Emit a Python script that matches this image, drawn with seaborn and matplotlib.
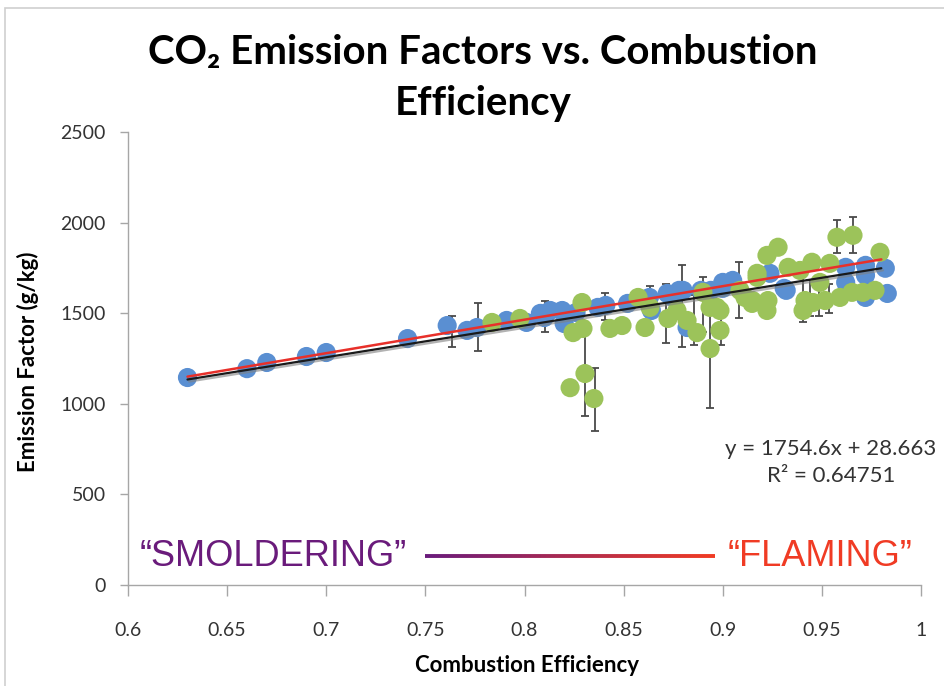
import numpy as np
import pandas as pd
import matplotlib
matplotlib.use("Agg")
import matplotlib.pyplot as plt
import seaborn as sns
from matplotlib.collections import LineCollection
from matplotlib.patches import Rectangle
import matplotlib.patheffects as pe

# ---------------- data ----------------
blue_ce = [0.630, 0.660, 0.670, 0.690, 0.700, 0.741, 0.761, 0.771, 0.776, 0.791,
           0.801, 0.808, 0.810, 0.813, 0.819, 0.820, 0.826, 0.837, 0.841, 0.852,
           0.863, 0.864, 0.872, 0.875, 0.878, 0.880, 0.882, 0.889, 0.894, 0.900,
           0.900, 0.905, 0.9238, 0.931, 0.932, 0.962, 0.962, 0.972, 0.972, 0.972,
           0.982, 0.983]
blue_ef = [1145, 1194, 1228, 1261, 1283, 1360, 1432, 1405, 1421, 1460,
           1449, 1499, 1476, 1515, 1515, 1443, 1504, 1532, 1543, 1554,
           1587, 1515, 1609, 1587, 1626, 1626, 1421, 1626, 1626, 1637,
           1670, 1681, 1720, 1637, 1626, 1753, 1670, 1764, 1709, 1587,
           1748, 1609]

green_ce = [0.7836, 0.7977, 0.823, 0.8245, 0.829, 0.8295, 0.8305, 0.835, 0.8431, 0.8492,
            0.8573, 0.8608, 0.8633, 0.8724, 0.8769, 0.882, 0.887, 0.890, 0.8936, 0.8936,
            0.8986, 0.8986, 0.897, 0.9087, 0.9112, 0.9148, 0.915, 0.9173, 0.9173, 0.9213,
            0.9223, 0.9223, 0.9228, 0.9279, 0.933, 0.939, 0.9405, 0.9415, 0.945, 0.9455,
            0.949, 0.9516, 0.954, 0.9576, 0.9591, 0.9652, 0.9657, 0.9707, 0.9768, 0.9793]
green_ef = [1449, 1471, 1089, 1393, 1559, 1416, 1167, 1029, 1416, 1432,
            1587, 1421, 1532, 1471, 1515, 1460, 1393, 1615, 1532, 1305,
            1405, 1515, 1532, 1626, 1587, 1554, 1570, 1698, 1720, 1554,
            1515, 1819, 1570, 1864, 1753, 1736, 1515, 1570, 1781, 1559,
            1670, 1570, 1775, 1919, 1587, 1615, 1930, 1615, 1626, 1836]

err_ce = [0.7634, 0.7765, 0.8103, 0.8305, 0.8355, 0.8406, 0.8634, 0.8714, 0.8795, 0.8855,
          0.8900, 0.8936, 0.8991, 0.9082, 0.9405, 0.9440, 0.9486, 0.9536, 0.9576, 0.9657]
err_low = [1311, 1294, 1394, 935, 852, 1460, 1410, 1333, 1311, 1327,
           1394, 979, 1327, 1476, 1454, 1482, 1482, 1499, 1830, 1830]
err_high = [1482, 1554, 1565, 1416, 1200, 1609, 1648, 1659, 1764, 1598,
            1698, 1631, 1482, 1781, 1725, 1681, 1681, 1659, 2013, 2030]

trend_x = [0.63, 0.98]
black_slope, black_intercept, black_r2 = 1754.6, 28.663, 0.64751
red_slope, red_intercept = 1849.0, -15.0

x_ticks = [0.6, 0.65, 0.7, 0.75, 0.8, 0.85, 0.9, 0.95, 1.0]
x_tick_labels = ["0.6", "0.65", "0.7", "0.75", "0.8", "0.85", "0.9", "0.95", "1"]
y_ticks = [0, 500, 1000, 1500, 2000, 2500]
y_tick_labels = ["0", "500", "1000", "1500", "2000", "2500"]

title_lines = ["CO₂ Emission Factors vs. Combustion", "Efficiency"]
x_label = "Combustion Efficiency"
y_label = "Emission Factor (g/kg)"
left_tag, right_tag = "“SMOLDERING”", "“FLAMING”"

# ---------------- style ----------------
sns.set_theme(style="white")
plt.rcParams['font.family'] = ['Lato', 'DejaVu Sans']

BLUE = "#5a8fd2"
GREEN = "#9cc35a"
PURPLE = "#6a1b7b"
RED = "#f03b24"
AXIS_GRAY = "#a6a6a6"
TEXT = "#333333"

W, H = 945, 686
fig = plt.figure(figsize=(W / 100, H / 100), dpi=100)
fig.patch.set_facecolor("white")

# outer chart frame
fig.patches.append(Rectangle((5 / W, -0.05), 1.1, 1 - 8 / H + 0.05, transform=fig.transFigure,
                             fill=False, edgecolor="#cfcfcf", linewidth=1.2, zorder=0))

ax = fig.add_axes([128 / W, 101 / H, 793 / W, 453 / H])

# error bars
lo = np.array(err_low, dtype=float)
hi = np.array(err_high, dtype=float)
mid = (lo + hi) / 2
half = (hi - lo) / 2
ax.errorbar(err_ce, mid, yerr=half, fmt="none", ecolor="#4a4a4a", elinewidth=1.3,
            capsize=3, capthick=1.3, zorder=2)

df_b = pd.DataFrame({"ce": blue_ce, "ef": blue_ef})
df_g = pd.DataFrame({"ce": green_ce, "ef": green_ef})
sns.scatterplot(data=df_b, x="ce", y="ef", color=BLUE, s=190, edgecolor="none",
                ax=ax, zorder=3, legend=False)
sns.scatterplot(data=df_g, x="ce", y="ef", color=GREEN, s=190, edgecolor="none",
                ax=ax, zorder=3, legend=False)

tx = np.array(trend_x)
shadow = [pe.SimpleLineShadow(offset=(1.2, -1.5), shadow_color="gray", alpha=0.6), pe.Normal()]
sns.lineplot(x=tx, y=black_slope * tx + black_intercept, color="#1a1a1a", lw=1.6,
             ax=ax, zorder=4, path_effects=shadow)
sns.lineplot(x=tx, y=red_slope * tx + red_intercept, color="#e8302a", lw=1.8,
             ax=ax, zorder=5)

ax.set_xlim(0.6, 1.0)
ax.set_ylim(0, 2500)
ax.set_xticks(x_ticks)
ax.set_xticklabels(x_tick_labels)
ax.set_yticks(y_ticks)
ax.set_yticklabels(y_tick_labels)
ax.set_xlabel("")
ax.set_ylabel("")

for s in ["top", "right"]:
    ax.spines[s].set_visible(False)
for s in ["left", "bottom"]:
    ax.spines[s].set_color(AXIS_GRAY)
    ax.spines[s].set_linewidth(1.0)

ax.tick_params(axis="y", direction="out", length=6, width=1, color=AXIS_GRAY,
               pad=10, labelsize=14, labelcolor=TEXT, left=True)
ax.tick_params(axis="x", direction="out", length=8, width=1, color=AXIS_GRAY,
               pad=19, labelsize=14, labelcolor=TEXT, bottom=True)

# smoldering / flaming annotation
tag_font = ['Liberation Sans', 'DejaVu Sans']
ax.text(0.015, 0.064, left_tag, transform=ax.transAxes, color=PURPLE, fontsize=26,
        family=tag_font, ha="left", va="center")
ax.text(0.9887, 0.064, right_tag, transform=ax.transAxes, color=RED, fontsize=26,
        family=tag_font, ha="right", va="center")
n = 60
xs = np.linspace(0.3745, 0.740, n + 1)
segs = [[(xs[i], 0.064), (xs[i + 1], 0.064)] for i in range(n)]
c0 = np.array(matplotlib.colors.to_rgb(PURPLE))
c1 = np.array(matplotlib.colors.to_rgb(RED))
cols = [tuple(c0 + (c1 - c0) * (i / (n - 1))) for i in range(n)]
lc = LineCollection(segs, colors=cols, linewidths=2.8, transform=ax.transAxes, capstyle="butt")
ax.add_collection(lc)

# equation
fig.text(831 / W, 1 - 449 / H, f"y = {black_slope}x + {black_intercept}", ha="center",
         va="center", fontsize=16, color=TEXT)
fig.text(831 / W, 1 - 476 / H, f"R² = {black_r2}", ha="center", va="center",
         fontsize=16, color=TEXT)

# titles and labels
fig.text(483 / W, 1 - 53 / H, title_lines[0], ha="center", va="center", fontsize=29,
         weight="bold", color="black")
fig.text(483 / W, 1 - 104 / H, title_lines[1], ha="center", va="center", fontsize=29,
         weight="bold", color="black")
fig.text(28 / W, 1 - 362 / H, y_label, rotation=90, rotation_mode="anchor",
         ha="center", va="center", fontsize=16, weight="bold", color="black")
fig.text(527 / W, 1 - 665 / H, x_label, ha="center", va="center", fontsize=16,
         weight="bold", color="black")

fig.savefig("out.png", dpi=100)
